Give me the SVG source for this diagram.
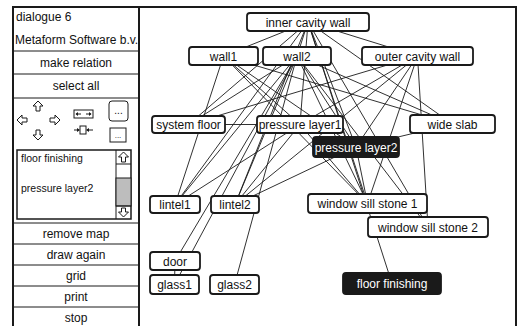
<svg xmlns="http://www.w3.org/2000/svg" width="522" height="326" viewBox="0 0 522 326">
<style>
.frame{fill:none;stroke:#1a1a1a;stroke-width:2}
.sep{stroke:#1a1a1a;stroke-width:1}
.t{font-family:"Liberation Sans",Arial,sans-serif;font-size:12px;fill:#111}
.c{text-anchor:middle}
.n rect{fill:#fff;stroke:#1a1a1a;stroke-width:1.8}
.n text{font-family:"Liberation Sans",Arial,sans-serif;font-size:12px;fill:#111;text-anchor:middle}
.s rect{fill:#1a1a1a;stroke:#1a1a1a;stroke-width:1.8}
.s text{fill:#fff}
.e line{stroke:#1a1a1a;stroke-width:0.9}
.ic{fill:#fff;stroke:#1a1a1a;stroke-width:1}
</style>
<rect width="522" height="326" fill="#fff"/>

<g id="panel">
<rect class="frame" x="13" y="7" width="126" height="330"/>
<text class="t" x="16" y="21">dialogue 6</text>
<text class="t" x="15" y="44">Metaform Software b.v.</text>
<line class="sep" x1="13" y1="51" x2="139" y2="51"/>
<text class="t c" x="76" y="67">make relation</text>
<line class="sep" x1="13" y1="74" x2="139" y2="74"/>
<text class="t c" x="76" y="90">select all</text>
<line class="sep" x1="13" y1="98" x2="139" y2="98"/>
<g id="arrows">
<polygon class="ic" points="38,101 43,106 40,106 40,111 36,111 36,106 33,106"/>
<polygon class="ic" points="17,120 22,115 22,118 27,118 27,122 22,122 22,125"/>
<polygon class="ic" points="60,120 55,115 55,118 50,118 50,122 55,122 55,125"/>
<polygon class="ic" points="38,140 43,135 40,135 40,130 36,130 36,135 33,135"/>
<rect class="ic" x="74" y="110" width="19" height="8"/>
<line class="sep" x1="76" y1="114" x2="81" y2="114"/><polygon points="75.5,114 78,112 78,116" fill="#1a1a1a"/>
<line class="sep" x1="86" y1="114" x2="91" y2="114"/><polygon points="91.5,114 89,112 89,116" fill="#1a1a1a"/>
<line class="sep" x1="74" y1="130" x2="79" y2="130"/><polygon points="80,130 77,128 77,132" fill="#1a1a1a"/>
<rect class="ic" x="80" y="126" width="6" height="8"/>
<line class="sep" x1="87" y1="130" x2="93" y2="130"/><polygon points="86,130 89,128 89,132" fill="#1a1a1a"/>
<rect class="ic" x="109" y="101" width="19" height="20" rx="3"/>
<text class="t c" x="118.5" y="114" style="font-size:10px">...</text>
<rect class="ic" x="110" y="128" width="16" height="14"/>
<text class="t c" x="118" y="138" style="font-size:8px">...</text>
</g>
<g id="list">
<rect class="ic" x="17" y="150" width="114" height="69" style="stroke-width:1.5"/>
<text class="t" x="21" y="162" style="font-size:10.5px">floor finishing</text>
<text class="t" x="21" y="192" style="font-size:10.5px">pressure layer2</text>
<line class="sep" x1="116" y1="150" x2="116" y2="219"/>
<rect x="116" y="178" width="15" height="28" fill="#bdbdbd" stroke="#1a1a1a" stroke-width="1"/>
<line class="sep" x1="116" y1="164" x2="131" y2="164"/>
<line class="sep" x1="116" y1="206" x2="131" y2="206"/>
<polygon class="ic" points="123.5,152 128.5,157 125.5,157 125.5,162 121.5,162 121.5,157 118.5,157"/>
<polygon class="ic" points="123.5,217 128.5,212 125.5,212 125.5,208 121.5,208 121.5,212 118.5,212"/>
</g>
<line class="sep" x1="13" y1="223" x2="139" y2="223"/>
<text class="t c" x="76" y="238">remove map</text>
<line class="sep" x1="13" y1="244" x2="139" y2="244"/>
<text class="t c" x="76" y="259">draw again</text>
<line class="sep" x1="13" y1="265" x2="139" y2="265"/>
<text class="t c" x="76" y="280">grid</text>
<line class="sep" x1="13" y1="286" x2="139" y2="286"/>
<text class="t c" x="76" y="301">print</text>
<line class="sep" x1="13" y1="307" x2="139" y2="307"/>
<text class="t c" x="76" y="322">stop</text>
</g>

<rect class="frame" x="139" y="7" width="377" height="330"/>

<g id="connectors" class="e">
<line x1="308" y1="22" x2="223.5" y2="56"/>
<line x1="308" y1="22" x2="297" y2="56"/>
<line x1="308" y1="22" x2="417.5" y2="56"/>
<line x1="308" y1="22" x2="452.5" y2="124"/>
<line x1="308" y1="22" x2="300" y2="124.5"/>
<line x1="308" y1="22" x2="356" y2="147"/>
<line x1="308" y1="22" x2="188.5" y2="124.5"/>
<line x1="308" y1="22" x2="175" y2="204.5"/>
<line x1="308" y1="22" x2="235" y2="204.5"/>
<line x1="308" y1="22" x2="367.5" y2="203.5"/>
<line x1="308" y1="22" x2="428" y2="227"/>
<line x1="308" y1="22" x2="392" y2="283.5"/>
<line x1="223.5" y1="56" x2="175" y2="204.5"/>
<line x1="223.5" y1="56" x2="452.5" y2="124"/>
<line x1="223.5" y1="56" x2="300" y2="124.5"/>
<line x1="223.5" y1="56" x2="367.5" y2="203.5"/>
<line x1="223.5" y1="56" x2="356" y2="147"/>
<line x1="297" y1="56" x2="188.5" y2="124.5"/>
<line x1="297" y1="56" x2="356" y2="147"/>
<line x1="297" y1="56" x2="175" y2="204.5"/>
<line x1="297" y1="56" x2="235" y2="204.5"/>
<line x1="297" y1="56" x2="367.5" y2="203.5"/>
<line x1="297" y1="56" x2="428" y2="227"/>
<line x1="297" y1="56" x2="452.5" y2="124"/>
<line x1="297" y1="56" x2="175" y2="261"/>
<line x1="297" y1="56" x2="174.5" y2="284.5"/>
<line x1="297" y1="56" x2="234.5" y2="284.5"/>
<line x1="417.5" y1="56" x2="300" y2="124.5"/>
<line x1="417.5" y1="56" x2="356" y2="147"/>
<line x1="417.5" y1="56" x2="367.5" y2="203.5"/>
<line x1="417.5" y1="56" x2="428" y2="227"/>
<line x1="417.5" y1="56" x2="188.5" y2="124.5"/>
<line x1="417.5" y1="56" x2="235" y2="204.5"/>
<line x1="188.5" y1="124.5" x2="300" y2="124.5"/>
<line x1="300" y1="124.5" x2="175" y2="204.5"/>
<line x1="300" y1="124.5" x2="235" y2="204.5"/>
<line x1="300" y1="124.5" x2="367.5" y2="203.5"/>
<line x1="356" y1="147" x2="452.5" y2="124"/>
<line x1="356" y1="147" x2="235" y2="204.5"/>
<line x1="356" y1="147" x2="367.5" y2="203.5"/>
<line x1="175" y1="261" x2="174.5" y2="284.5"/>
</g>

<g id="n-icw" class="n"><rect x="247" y="13" width="122" height="18" rx="3"/><text x="308" y="26.5">inner cavity wall</text></g>
<g id="n-wall1" class="n"><rect x="189" y="47" width="69" height="18" rx="3"/><text x="223.5" y="60.5">wall1</text></g>
<g id="n-wall2" class="n"><rect x="263" y="47" width="68" height="18" rx="3"/><text x="297" y="60.5">wall2</text></g>
<g id="n-ocw" class="n"><rect x="362" y="47" width="111" height="18" rx="3"/><text x="417.5" y="60.5">outer cavity wall</text></g>
<g id="n-sf" class="n"><rect x="152" y="116" width="73" height="17" rx="3"/><text x="188.5" y="129">system floor</text></g>
<g id="n-pl1" class="n"><rect x="257" y="116" width="86" height="17" rx="3"/><text x="300" y="129">pressure layer1</text></g>
<g id="n-ws" class="n"><rect x="410" y="115" width="85" height="18" rx="3"/><text x="452.5" y="128.5">wide slab</text></g>
<g id="n-pl2" class="n s"><rect x="313" y="137" width="86" height="20" rx="3"/><text x="356" y="151.5">pressure layer2</text></g>
<g id="n-l1" class="n"><rect x="150" y="196" width="50" height="17" rx="3"/><text x="175" y="209">lintel1</text></g>
<g id="n-l2" class="n"><rect x="211" y="196" width="48" height="17" rx="3"/><text x="235" y="209">lintel2</text></g>
<g id="n-wss1" class="n"><rect x="308" y="194" width="119" height="19" rx="3"/><text x="367.5" y="208">window sill stone 1</text></g>
<g id="n-wss2" class="n"><rect x="368" y="217" width="120" height="20" rx="3"/><text x="428" y="231.5">window sill stone 2</text></g>
<g id="n-door" class="n"><rect x="150" y="252" width="50" height="18" rx="3"/><text x="175" y="265.5">door</text></g>
<g id="n-glass1" class="n"><rect x="150" y="275" width="49" height="19" rx="3"/><text x="174.5" y="289">glass1</text></g>
<g id="n-glass2" class="n"><rect x="210" y="275" width="49" height="19" rx="3"/><text x="234.5" y="289">glass2</text></g>
<g id="n-ff" class="n s"><rect x="343" y="273" width="98" height="21" rx="3"/><text x="392" y="288">floor finishing</text></g>
</svg>
